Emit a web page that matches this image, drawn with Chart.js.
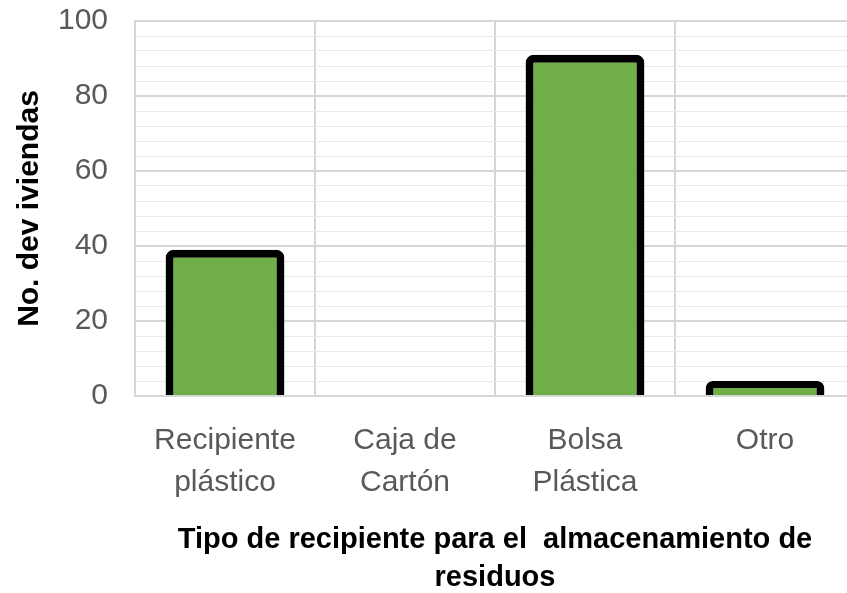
<!DOCTYPE html>
<html>
<head>
<meta charset="utf-8">
<script src="https://cdn.jsdelivr.net/npm/chart.js@4.4.1/dist/chart.umd.min.js"></script>
<style>
    html, body { margin: 0; padding: 0; background: #ffffff; overflow: hidden; }
    #wrap { width: 847px; height: 593px; overflow: hidden; position: relative; }
    #chartBox { width: 858px; height: 593px; position: absolute; left: 0; top: 0; }
</style>
</head>
<body>
<div id="wrap">
    <div id="chartBox"><canvas id="myChart"></canvas></div>
</div>
<script>
// data
const categories = [['Recipiente', 'plástico'], ['Caja de', 'Cartón'], ['Bolsa', 'Plástica'], 'Otro'];
const viviendas = [39, 0, 91, 4];
const yTickValues = [0, 20, 40, 60, 80, 100];

const yTitle = 'No. dev iviendas';
const xTitle = ['Tipo de recipiente para el  almacenamiento de', 'residuos'];

const fontFam = "'Liberation Sans', Arial, sans-serif";

const canvas = document.getElementById('myChart');

const config = {
    type: 'bar',
    data: {
        labels: categories,
        datasets: [{
            label: yTitle,
            data: viviendas,
            backgroundColor: '#6fae48',
            borderColor: '#000000',
            borderWidth: 8,
            borderRadius: 8,
            borderSkipped: 'bottom',
            barPercentage: 0.66,
            categoryPercentage: 1.0
        }]
    },
    options: {
        responsive: true,
        maintainAspectRatio: false,
        animation: false,
        layout: {
            padding: { top: 21, right: 3, bottom: 0, left: 0 }
        },
        plugins: {
            legend: { display: false },
            tooltip: { enabled: false }
        },
        scales: {
            x: {
                afterFit: scale => {
                    scale.height = 197;
                    scale.paddingLeft = 0;
                    scale.paddingRight = 0;
                },
                grid: {
                    offset: true,
                    color: '#d6d6d6',
                    lineWidth: 2,
                    drawTicks: false
                },
                border: { color: '#d6d6d6', width: 2 },
                ticks: {
                    color: '#595959',
                    padding: 24,
                    maxRotation: 0,
                    autoSkip: false,
                    font: { family: fontFam, size: 30, lineHeight: 1.4 }
                },
                title: {
                    display: true,
                    text: xTitle,
                    color: '#000000',
                    padding: { top: 0, bottom: -4 },
                    font: { family: fontFam, size: 29, weight: 'bold', lineHeight: 1.3 }
                }
            },
            y: {
                min: 0,
                max: 100,
                afterFit: scale => {
                    scale.width = 135;
                    scale.paddingTop = 0;
                    scale.paddingBottom = 0;
                },
                grid: {
                    drawTicks: false,
                    color: ctx => (ctx.tick && ctx.tick.value % 20 === 0) ? '#d6d6d6' : '#eaeaea',
                    lineWidth: ctx => (ctx.tick && ctx.tick.value % 20 === 0) ? 2 : 1
                },
                border: { color: '#d6d6d6', width: 2 },
                ticks: {
                    stepSize: 4,
                    autoSkip: false,
                    color: '#595959',
                    padding: 27,
                    font: { family: fontFam, size: 30 },
                    callback: v => yTickValues.includes(v) ? v : ''
                },
                title: {
                    display: true,
                    text: yTitle,
                    color: '#000000',
                    padding: { top: 12, bottom: 0 },
                    font: { family: fontFam, size: 30, weight: 'bold' }
                }
            }
        }
    }
};

new Chart(canvas, config);
</script>
</body>
</html>
